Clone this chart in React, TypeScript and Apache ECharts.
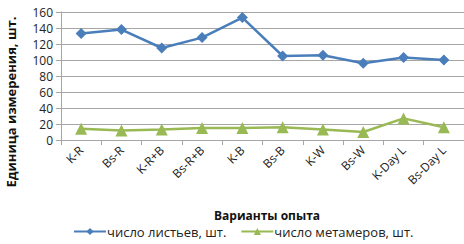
import React, { useEffect, useRef } from "react";
import * as echarts from "echarts";

const categories = ["K-R", "Bs-R", "K-R+B", "Bs-R+B", "K-B", "Bs-B", "K-W", "Bs-W", "K-Day L", "Bs-Day L"];
const leaves = [133, 138, 115, 128, 153, 105, 106, 96, 103, 100];
const metamers = [14, 12, 13, 15, 15, 16, 13, 10, 27, 16];
const yTicks = { min: 0, max: 160, interval: 20 };

const FONT = "'Open Sans', 'Noto Sans', sans-serif";

export default function App() {
  const ref = useRef<HTMLDivElement>(null);
  useEffect(() => {
    if (!ref.current) return;
    const chart = echarts.init(ref.current, undefined, { renderer: "svg" });
    chart.setOption({
      animation: false,
      textStyle: { fontFamily: FONT },
      grid: { left: 61, top: 12, width: 407, height: 128, containLabel: false },
      xAxis: {
        type: "category",
        data: categories,
        boundaryGap: true,
        axisLine: { lineStyle: { color: "#a6a6a6" } },
        axisTick: { show: true, alignWithLabel: false, lineStyle: { color: "#a6a6a6" } },
        axisLabel: { rotate: 45, fontSize: 12, color: "#222", fontFamily: FONT, margin: 8, interval: 0 },
      },
      yAxis: {
        type: "value",
        min: yTicks.min,
        max: yTicks.max,
        interval: yTicks.interval,
        axisLine: { show: true, lineStyle: { color: "#a6a6a6" } },
        axisTick: { show: true, lineStyle: { color: "#a6a6a6" } },
        axisLabel: {
          fontSize: 12,
          lineHeight: 13,
          color: "#222",
          fontFamily: FONT,
          margin: 8,
          showMinLabel: true,
          showMaxLabel: true,
        },
        splitLine: { lineStyle: { color: "#a6a6a6", width: 1 } },
      },
      legend: {
        bottom: 1,
        left: 68,
        itemWidth: 32,
        itemHeight: 9,
        itemGap: 14,
        textStyle: { fontSize: 13, color: "#222", fontFamily: FONT, padding: [0, 0, 0, -4] },
        data: ["число листьев, шт.", "число метамеров, шт."],
      },
      graphic: [
        {
          type: "text",
          x: 11,
          y: 102,
          rotation: Math.PI / 2,
          style: {
            text: "Единица измерения, шт.",
            fontSize: 13,
            fontWeight: "bold",
            fill: "#111",
            fontFamily: FONT,
            align: "center",
            verticalAlign: "middle",
          },
        },
        {
          type: "text",
          x: 267,
          y: 215,
          style: {
            text: "Варианты опыта",
            fontSize: 12,
            fontWeight: "bold",
            fill: "#111",
            fontFamily: FONT,
            align: "center",
            verticalAlign: "middle",
          },
        },
      ],
      series: [
        {
          name: "число листьев, шт.",
          type: "line",
          data: leaves,
          symbol: "diamond",
          symbolSize: 11,
          lineStyle: { color: "#4a7ebb", width: 2.5 },
          itemStyle: { color: "#4a7ebb" },
        },
        {
          name: "число метамеров, шт.",
          type: "line",
          data: metamers,
          symbol: "triangle",
          symbolSize: 12,
          lineStyle: { color: "#98b954", width: 2.5 },
          itemStyle: { color: "#98b954" },
        },
      ],
    });
    return () => chart.dispose();
  }, []);
  return <div ref={ref} style={{ width: 464, height: 244 }} />;
}

const _style = document.createElement("style");
_style.textContent = "body{margin:0}";
document.head.appendChild(_style);
